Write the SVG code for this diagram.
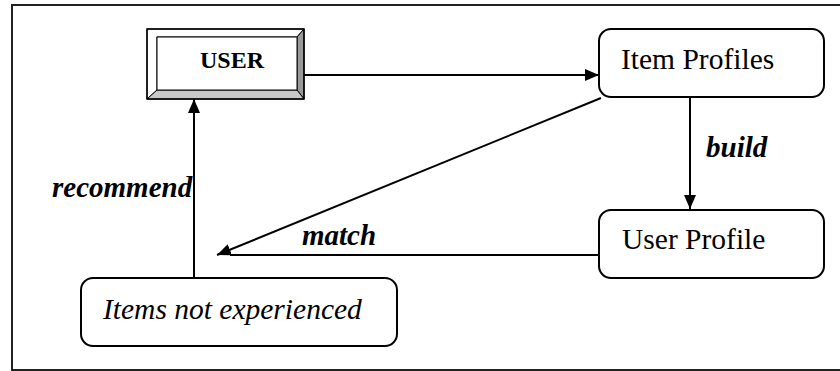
<svg xmlns="http://www.w3.org/2000/svg" width="840" height="371" viewBox="0 0 840 371">
  <defs>
    <marker id="arrow" viewBox="0 0 14 12" refX="14" refY="6" markerWidth="14" markerHeight="12" markerUnits="userSpaceOnUse" orient="auto">
      <path d="M0,0 L14,6 L0,12 Z" fill="#000"/>
    </marker>
    <style>
      .box { fill: #fff; stroke: #000; stroke-width: 2; }
      .serif { font-family: "Liberation Serif", Tinos, "Times New Roman", Times, "DejaVu Serif", serif; fill: #000; }
      .label { font-size: 29.5px; }
      .edge-label { font-size: 29px; font-weight: bold; font-style: italic; }
      .link { stroke: #000; stroke-width: 2; fill: none; }
    </style>
  </defs>

  <rect width="840" height="371" fill="#fff"/>
  <!-- outer frame -->
  <rect x="12" y="5" width="840" height="365" fill="none" stroke="#222" stroke-width="2"/>

  <!-- connectors -->
  <g id="connectors">
    <line class="link" x1="304" y1="75" x2="599" y2="75" marker-end="url(#arrow)"/>
    <line class="link" x1="690" y1="98" x2="690" y2="209" marker-end="url(#arrow)"/>
    <line class="link" x1="599" y1="255" x2="230" y2="255"/>
    <line class="link" x1="601" y1="98" x2="217" y2="255" marker-end="url(#arrow)"/>
    <line class="link" x1="194" y1="278" x2="194" y2="99" marker-end="url(#arrow)"/>
    <text class="serif edge-label" x="706" y="157">build</text>
    <text class="serif edge-label" x="302" y="245">match</text>
    <text class="serif edge-label" x="52" y="197">recommend</text>
  </g>

  <!-- bevelled USER button -->
  <g id="user">
    <polygon points="147,29 304,29 297,37 157,37 157,90 147,99" fill="#fff" stroke="#000" stroke-width="1"/>
    <polygon points="304,29 304,99 297,90 297,37" fill="#999" stroke="#000" stroke-width="1"/>
    <polygon points="147,99 304,99 297,90 157,90" fill="#c8c8c8" stroke="#000" stroke-width="1"/>
    <rect x="157" y="37" width="140" height="53" fill="#fff" stroke="#000" stroke-width="1"/>
    <rect x="147" y="29" width="157" height="70" fill="none" stroke="#000" stroke-width="1.5"/>
    <text class="serif" x="200" y="68" font-size="24" font-weight="bold">USER</text>
  </g>

  <g id="item-profiles">
    <rect class="box" x="599" y="29" width="225" height="68" rx="12"/>
    <text class="serif label" x="621" y="69">Item Profiles</text>
  </g>

  <g id="user-profile">
    <rect class="box" x="599" y="210" width="225" height="68" rx="12"/>
    <text class="serif label" x="622" y="249">User Profile</text>
  </g>

  <g id="items-not-experienced">
    <rect class="box" x="81" y="278" width="316" height="68" rx="12"/>
    <text class="serif label" x="103" y="319" font-style="italic">Items not experienced</text>
  </g>
</svg>
